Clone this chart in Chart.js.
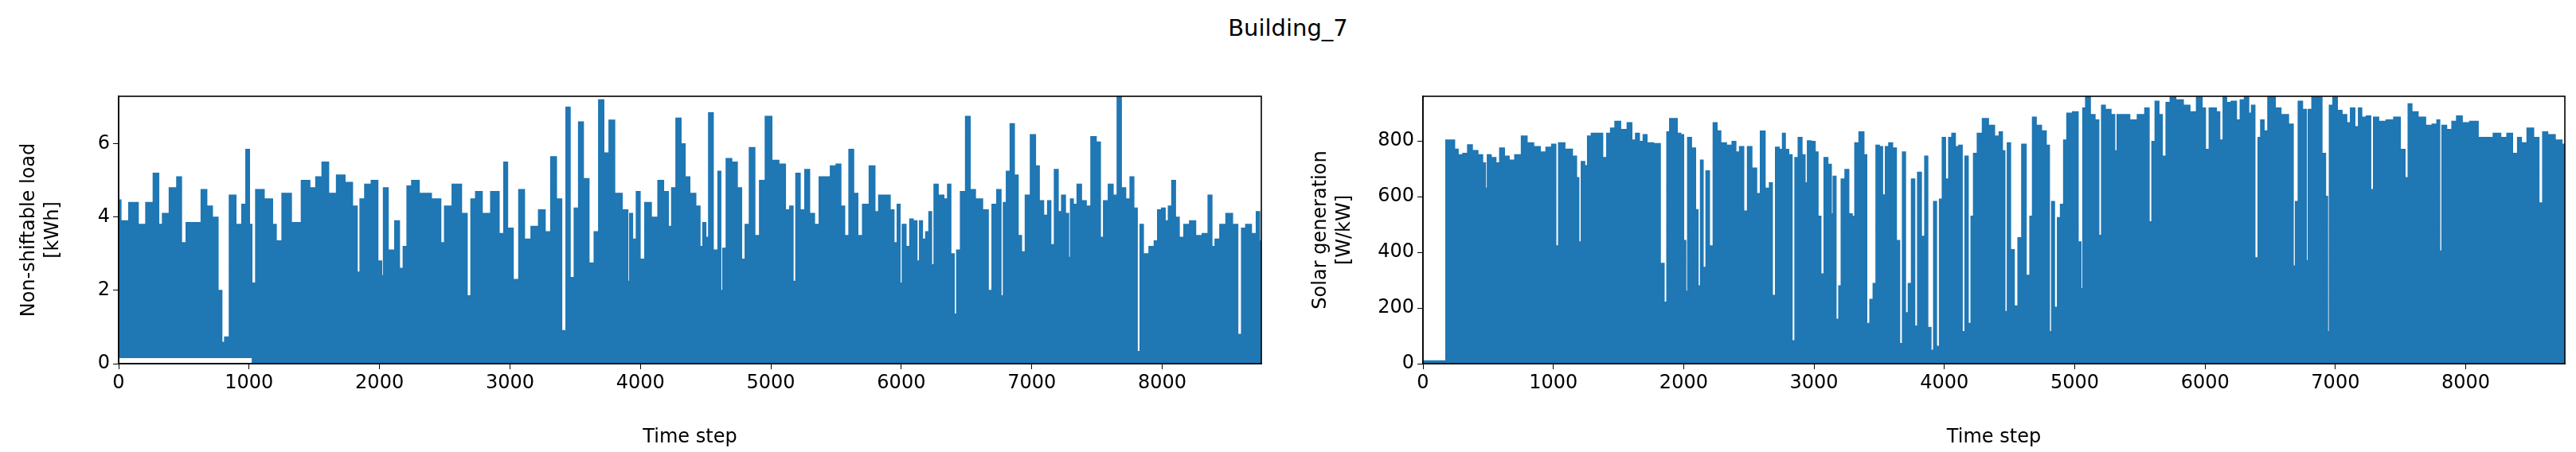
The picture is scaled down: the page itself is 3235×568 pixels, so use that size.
<!DOCTYPE html>
<html><head><meta charset="utf-8">
<script src="https://cdn.jsdelivr.net/npm/chart.js@4"></script>
<style>
body{margin:0;width:3235px;height:568px;background:#fff;position:relative;overflow:hidden;font-family:"DejaVu Sans";}
#title{position:absolute;top:18px;left:0;width:3235px;text-align:center;font-size:29px;color:#000;}
canvas{position:absolute;top:0;}
</style></head><body>
<div id="title">Building_7</div>
<div style="position:absolute;left:0;top:0;width:1620px;height:568px"><canvas id="c1"></canvas></div>
<div style="position:absolute;left:1640px;top:0;width:1595px;height:568px"><canvas id="c2"></canvas></div>
<script>
const xTicks=[0,1000,2000,3000,4000,5000,6000,7000,8000];
const loadTicks=[0,2,4,6];
const solarTicks=[0,200,400,600,800];
const loadSteps=[0,35,120,180,236,294,320,352,424,467,496,539,611,654,697,740,784,798,827,870,928,960,991,1014,1029,1072,1159,1200,1216,1288,1360,1441,1490,1533,1585,1634,1706,1764,1821,1836,1865,1908,1965,2009,2023,2037,2095,2138,2167,2196,2225,2268,2340,2455,2484,2513,2600,2657,2686,2715,2758,2816,2888,2945,2960,3003,3046,3089,3133,3190,3248,3291,3334,3378,3415,3444,3478,3507,3545,3580,3631,3660,3700,3738,3781,3824,3896,3911,3925,3954,3983,4012,4055,4112,4156,4199,4228,4251,4294,4328,4357,4400,4449,4464,4493,4510,4536,4580,4609,4623,4640,4675,4725,4760,4791,4815,4855,4899,4928,4986,5029,5093,5130,5160,5180,5203,5246,5275,5319,5350,5391,5435,5478,5522,5551,5580,5617,5652,5681,5725,5783,5812,5841,5899,5930,5957,5980,6000,6014,6058,6072,6110,6130,6150,6174,6200,6223,6241,6261,6304,6348,6362,6397,6414,6435,6472,6513,6542,6594,6652,6681,6710,6754,6774,6791,6820,6849,6884,6907,6936,6965,7014,7043,7072,7110,7133,7159,7188,7217,7241,7275,7290,7304,7333,7362,7400,7435,7472,7516,7536,7565,7609,7638,7672,7701,7739,7768,7797,7820,7841,7870,7928,7950,7980,8010,8035,8060,8087,8116,8145,8188,8232,8281,8333,8371,8391,8420,8464,8513,8565,8594,8623,8658,8710,8733,8760];
const loadValues=[4.47,3.9,4.4,3.8,4.4,5.2,3.8,4.1,4.8,5.1,3.3,3.85,3.85,4.75,4.3,4.0,2.0,0.58,0.73,4.6,3.8,4.35,5.85,3.8,2.2,4.75,4.5,3.8,3.35,4.65,3.85,5.0,4.8,5.1,5.5,4.65,5.15,4.95,4.3,2.5,4.5,4.9,5.0,2.8,2.4,4.8,3.1,3.9,2.6,3.2,4.85,5.0,4.65,4.5,3.3,4.3,4.9,4.1,1.85,4.5,4.7,4.1,4.7,3.55,5.5,3.7,2.3,4.75,3.4,3.75,4.2,3.6,5.65,4.5,0.9,7.0,2.35,4.25,6.6,5.05,2.75,3.6,7.2,5.75,6.65,4.65,4.2,2.25,4.1,3.4,4.7,2.85,4.4,4.0,5.0,4.7,3.75,4.8,6.7,6.0,5.1,4.65,4.3,3.2,3.85,3.45,6.85,3.1,5.25,2.0,3.15,5.6,5.5,4.8,2.85,3.8,5.9,3.5,5.0,6.75,5.55,5.45,4.2,4.3,2.25,5.2,4.2,5.3,4.1,3.8,5.1,5.1,5.4,5.45,4.3,3.5,5.85,4.65,3.5,4.35,5.4,4.15,4.6,4.6,4.2,3.3,4.35,2.2,3.8,3.2,3.95,3.9,2.8,3.9,3.4,3.6,4.15,2.7,4.9,4.6,4.5,4.9,3.0,1.35,3.1,4.7,6.75,4.75,4.5,4.2,2.0,4.35,4.75,1.85,4.4,5.25,6.55,5.15,3.5,3.05,4.6,6.25,5.4,4.45,4.05,4.45,3.25,5.3,4.15,4.6,4.1,2.9,4.5,4.35,4.9,4.45,4.3,6.2,6.05,3.45,4.45,4.9,4.6,7.3,4.8,4.5,5.1,4.25,0.33,3.8,3.0,3.2,3.35,4.2,4.25,3.9,4.3,5.0,4.0,3.45,3.8,3.9,3.5,3.55,4.6,3.2,3.4,3.8,4.1,3.8,0.8,3.7,3.8,3.55,4.15,3.35];
const loadLowSteps=[0,1020,1025,8760];
const loadLowValues=[0.15,0.15,0,0];
const solarSteps=[0,168,183,230,255,284,328,357,400,443,472,487,501,545,574,603,646,675,733,777,820,878,922,965,1009,1029,1052,1125,1168,1188,1203,1226,1255,1270,1313,1357,1400,1420,1458,1487,1545,1588,1617,1645,1675,1704,1733,1806,1835,1864,1878,1907,1936,1965,1990,2009,2023,2038,2081,2101,2119,2139,2159,2183,2212,2241,2270,2299,2357,2386,2414,2443,2478,2501,2545,2574,2603,2646,2670,2690,2719,2748,2768,2791,2820,2843,2864,2893,2922,2940,2959,2994,3023,3038,3067,3087,3125,3140,3154,3183,3197,3220,3255,3278,3307,3319,3371,3394,3414,3443,3464,3487,3515,3536,3559,3588,3617,3646,3667,3690,3713,3733,3762,3783,3806,3841,3858,3887,3907,3928,3951,3974,3994,4023,4043,4072,4096,4125,4148,4168,4197,4212,4235,4270,4313,4363,4406,4435,4455,4473,4493,4522,4550,4579,4608,4646,4666,4686,4723,4767,4795,4816,4830,4859,4876,4905,4925,4954,5012,5040,5055,5069,5098,5141,5170,5199,5213,5256,5300,5314,5337,5400,5444,5516,5559,5582,5602,5631,5660,5683,5718,5746,5804,5862,5905,5963,5991,6014,6049,6075,6098,6127,6150,6179,6222,6259,6280,6323,6346,6366,6398,6415,6438,6467,6496,6524,6553,6611,6669,6683,6703,6726,6769,6784,6798,6841,6879,6914,6934,6945,6962,7000,7029,7072,7101,7130,7167,7187,7216,7259,7282,7303,7360,7418,7476,7519,7548,7568,7605,7663,7720,7764,7793,7807,7827,7879,7908,7951,7994,8066,8124,8182,8239,8297,8334,8383,8412,8441,8499,8542,8580,8600,8657,8715,8760];
const solarValues=[10,10,803,803,770,750,755,786,765,750,721,630,750,740,721,774,745,731,750,817,793,779,760,777,788,423,793,770,745,668,437,726,711,817,827,827,740,827,846,870,841,865,803,827,798,822,793,790,360,221,832,880,880,827,822,442,260,812,774,553,279,731,346,692,423,865,836,793,784,798,760,779,548,779,702,611,835,630,649,245,777,769,827,769,750,82,740,812,750,649,800,798,760,529,322,740,716,538,673,159,279,663,697,538,529,793,832,750,144,231,288,784,779,606,779,793,774,442,72,760,183,288,663,135,687,457,745,130,48,582,62,591,812,663,812,827,779,784,115,745,144,529,755,827,880,856,817,832,764,187,793,409,207,452,788,317,529,885,856,836,784,115,582,202,524,572,803,899,904,437,269,918,962,894,875,461,928,913,894,764,894,894,875,894,918,509,798,942,894,745,938,957,947,928,904,957,918,769,918,918,904,803,962,938,942,875,947,962,899,928,380,812,875,836,962,962,918,894,860,351,582,942,913,370,913,957,957,755,601,115,928,957,909,894,865,918,851,918,885,889,625,885,870,875,885,769,668,933,904,885,856,860,875,404,856,841,870,889,865,870,812,812,827,812,827,755,812,793,846,812,577,832,822,803,788];
const blue='#1f77b4';
const frame={id:'frame',afterDraw(c){const a=c.chartArea,g=c.ctx;g.save();g.strokeStyle='#000';g.lineWidth=1.6;g.strokeRect(a.left,a.top,a.right-a.left,a.bottom-a.top);g.restore();}};
function pts(xs,ys){return xs.map((x,i)=>({x:x,y:ys[i]}));}
const F={family:'DejaVu Sans',size:24};
function mk(id,datasets,ymax,yt,ylabel,padL,yw,padR){
  new Chart(document.getElementById(id),{type:'line',data:{datasets:datasets},
  options:{responsive:true,maintainAspectRatio:false,animation:false,
   layout:{padding:{top:121,right:padR,bottom:0,left:padL}},
   plugins:{legend:{display:false},tooltip:{enabled:false}},
   elements:{point:{radius:0},line:{tension:0}},
   scales:{
    x:{type:'linear',min:0,max:8760,afterBuildTicks(s){s.ticks=xTicks.map(v=>({value:v}));},
      afterFit(s){s.height=111;},
      grid:{display:true,drawOnChartArea:false,tickLength:7,tickColor:'#000',color:'#000'},border:{color:'#000',width:1.6},
      ticks:{color:'#000',font:F,maxRotation:0,padding:3,callback:v=>String(v)},
      title:{display:true,text:'Time step',color:'#000',font:F,padding:{top:2}}},
    y:{min:0,max:ymax,afterBuildTicks(s){s.ticks=yt.map(v=>({value:v}));},
      ticks:{color:'#000',font:F,padding:4,callback:v=>String(v)},
      afterFit(s){s.width=yw;},
      grid:{display:true,drawOnChartArea:false,tickLength:7,tickColor:'#000',color:'#000'},border:{color:'#000',width:1.6},
      title:{display:true,text:ylabel,color:'#000',font:{family:'DejaVu Sans',size:24,lineHeight:1.25},padding:{bottom:6}}}
   }},plugins:[frame]});
}
mk('c1',[
 {data:pts(loadSteps,loadValues),borderColor:blue,borderWidth:1.5,backgroundColor:blue,fill:1,stepped:'middle'},
 {data:pts(loadLowSteps,loadLowValues),borderColor:'rgba(0,0,0,0)',borderWidth:0,fill:false}
],7.3,loadTicks,['Non-shiftable load','[kWh]'],18,131,36);
mk('c2',[
 {data:pts(solarSteps,solarValues),borderColor:blue,borderWidth:1.5,backgroundColor:blue,fill:'origin',stepped:'middle'}
],960,solarTicks,['Solar generation','[W/kW]'],0,147,14);
</script></body></html>
